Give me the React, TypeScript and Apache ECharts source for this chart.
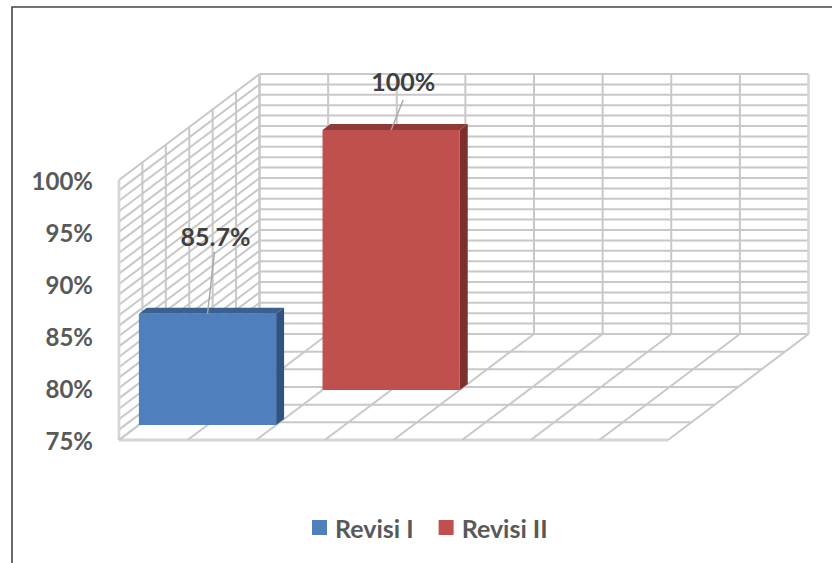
import React, { useEffect, useRef } from "react";
import * as echarts from "echarts";

const seriesNames = ["Revisi I", "Revisi II"];
const seriesValues = [85.7, 100];
const valueLabels = ["85.7%", "100%"];
const axisSlots = ["Revisi I", "Revisi II", "", ""];
const wallTicks = [75];

const AXIS_MIN = 75;
const AXIS_MAX = 100;

// Oblique projection: a depth of 1 moves a point from the front plane to the back wall.
const DEPTH_DX = 140.5;
const DEPTH_DY = -106;
const DEPTH_ROWS = 6;

const GRID = "#c8c8c8";
const EDGE = "#d6d6d6";
const TEXT = "#595959";
const FONT = "Lato, Carlito, sans-serif";
const GRID_WIDTH = 2;

const BAR_STYLES = [
  { front: "#4f7fbd", top: "#3a608f", side: "#2f5280", depth: 15 / 106, labelDx: 8, labelY: -78, labelSize: 25, leader: [7, -62] },
  { front: "#c0504d", top: "#8e3a38", side: "#7e2f2d", depth: 50 / 106, labelDx: 12, labelY: -49, labelSize: 25, leader: [12, -30] },
];
const BAR_THICKNESS = 6 / 106;

const seg = (a: number[], b: number[], color: string, width: number) => ({
  type: "line",
  silent: true,
  shape: { x1: a[0], y1: a[1], x2: b[0], y2: b[1] },
  style: { stroke: color, lineWidth: width, fill: "none" },
});

const shift = (p: number[], depth: number) => [p[0] + DEPTH_DX * depth, p[1] + DEPTH_DY * depth];

// Back wall, side wall and floor of the 3D box.
function renderWalls(_: any, api: any) {
  const band = api.size([1, 0])[0];
  const left = api.coord([0, AXIS_MIN])[0] - band / 2;
  const halfBands = axisSlots.length * 2;
  const children: any[] = [];

  for (let v = AXIS_MIN; v <= AXIS_MAX; v += 1) {
    const y = api.coord([0, v])[1];
    const a = [left, y];
    const b = [left + band * axisSlots.length, y];
    children.push(seg(a, shift(a, 1), GRID, GRID_WIDTH));
    children.push(seg(shift(a, 1), shift(b, 1), GRID, GRID_WIDTH));
  }
  const yLow = api.coord([0, AXIS_MIN])[1];
  const yHigh = api.coord([0, AXIS_MAX])[1];
  for (let k = 0; k <= DEPTH_ROWS; k += 1) {
    const d = k / DEPTH_ROWS;
    const lowA = [left, yLow];
    const highA = [left, yHigh];
    const lowB = [left + band * axisSlots.length, yLow];
    const wide = k === 0 ? 2.8 : GRID_WIDTH;
    children.push(seg(shift(lowA, d), shift(highA, d), k === 0 ? EDGE : GRID, wide));
    children.push(seg(shift(lowA, d), shift(lowB, d), k === 0 ? EDGE : GRID, wide));
  }
  for (let k = 0; k <= halfBands; k += 1) {
    const x = left + (band * k) / 2;
    children.push(seg([x, yLow], shift([x, yLow], 1), GRID, GRID_WIDTH));
    children.push(seg(shift([x, yLow], 1), shift([x, yHigh], 1), k === halfBands ? EDGE : GRID, k === halfBands ? 2.6 : GRID_WIDTH));
  }
  return { type: "group", children };
}

// One box standing on the floor, with its value label and leader line.
function renderBar(index: number) {
  return (_: any, api: any) => {
    const look = BAR_STYLES[index];
    const band = api.size([1, 0])[0];
    const x = api.coord([api.value(0), AXIS_MIN])[0] - band / 2;
    const y0 = api.coord([0, AXIS_MIN])[1];
    const y1 = api.coord([0, api.value(1)])[1];
    const bl = shift([x, y0], look.depth);
    const tl = shift([x, y1], look.depth);
    const br = shift([x + band, y0], look.depth);
    const tr = shift([x + band, y1], look.depth);
    const back = (p: number[]) => shift(p, BAR_THICKNESS);
    const mid = [(tl[0] + tr[0]) / 2, tl[1]];
    return {
      type: "group",
      children: [
        { type: "polygon", silent: true, shape: { points: [tl, tr, back(tr), back(tl)] }, style: { fill: look.top } },
        { type: "polygon", silent: true, shape: { points: [tr, br, back(br), back(tr)] }, style: { fill: look.side } },
        { type: "polygon", silent: true, shape: { points: [tl, tr, br, bl] }, style: { fill: look.front } },
        seg(mid, [mid[0] + look.leader[0], mid[1] + look.leader[1]], "#a6a6a6", 1.4),
        {
          type: "text",
          silent: true,
          x: mid[0] + look.labelDx,
          y: mid[1] + look.labelY,
          style: {
            text: valueLabels[index],
            fill: "#404040",
            font: `bold ${look.labelSize}px ${FONT}`,
            align: "center",
            verticalAlign: "middle",
          },
        },
      ],
    };
  };
}

export default function App() {
  const ref = useRef<HTMLDivElement>(null);

  useEffect(() => {
    const chart = echarts.init(ref.current!, undefined, { renderer: "svg" });
    chart.setOption({
      animation: false,
      backgroundColor: "#ffffff",
      grid: { left: 119, right: 164, top: 180, bottom: 123, containLabel: false },
      xAxis: {
        type: "category",
        data: axisSlots,
        axisLine: { show: false },
        axisTick: { show: false },
        axisLabel: { show: false },
        splitLine: { show: false },
      },
      yAxis: {
        type: "value",
        min: AXIS_MIN,
        max: AXIS_MAX,
        interval: 5,
        axisLine: { show: false },
        axisTick: { show: false },
        splitLine: { show: false },
        axisLabel: {
          formatter: "{value}%",
          color: TEXT,
          fontFamily: FONT,
          fontWeight: "bold",
          fontSize: 24,
          margin: 26,
          padding: [2, 0, 0, 0],
        },
      },
      legend: {
        data: seriesNames,
        left: 312,
        top: 515,
        padding: 0,
        icon: "rect",
        itemWidth: 15,
        itemHeight: 15,
        itemGap: 25,
        selectedMode: false,
        textStyle: { color: TEXT, fontFamily: FONT, fontWeight: "bold", fontSize: 25, padding: [0, 0, 3, 3] },
      },
      graphic: [
        {
          type: "polyline",
          silent: true,
          shape: { points: [[12, 563], [12, 7], [832, 7]] },
          style: { stroke: "#454545", lineWidth: 1.6, fill: "none" },
        },
      ],
      series: [
        {
          type: "custom",
          name: "walls",
          coordinateSystem: "cartesian2d",
          renderItem: renderWalls,
          data: wallTicks.map((t) => [0, t]),
          clip: false,
          z: 1,
        },
        {
          type: "custom",
          name: seriesNames[1],
          coordinateSystem: "cartesian2d",
          renderItem: renderBar(1),
          data: [[1, seriesValues[1]]],
          itemStyle: { color: BAR_STYLES[1].front },
          clip: false,
          z: 2,
        },
        {
          type: "custom",
          name: seriesNames[0],
          coordinateSystem: "cartesian2d",
          renderItem: renderBar(0),
          data: [[0, seriesValues[0]]],
          itemStyle: { color: BAR_STYLES[0].front },
          clip: false,
          z: 3,
        },
      ],
    });
    return () => chart.dispose();
  }, []);

  return <div ref={ref} style={{ position: "absolute", left: 0, top: 0, width: 832, height: 563 }} />;
}
